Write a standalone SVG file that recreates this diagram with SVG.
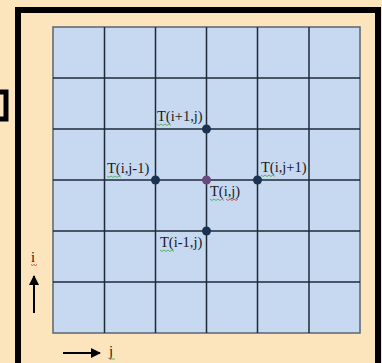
<svg xmlns="http://www.w3.org/2000/svg" width="382" height="363" viewBox="0 0 382 363">
<defs>
<style>
.lbl{font-family:"Liberation Serif","Times New Roman",serif;font-size:14.5px;fill:#1a1a1a}
.grid{stroke:#1f2a38;stroke-width:1.5;fill:none}
.dot{fill:#1b3350}
.sq-g{stroke:#4caf50;stroke-width:0.9;fill:none}
.sq-r{stroke:#e53935;stroke-width:0.9;fill:none}
</style>
<marker id="ah" viewBox="0 0 10 10" refX="9" refY="5" markerWidth="10" markerHeight="10" markerUnits="userSpaceOnUse" orient="auto">
<path d="M0,0 L10,5 L0,10 z" fill="#000"/>
</marker>
</defs>
<rect x="0" y="0" width="382" height="363" fill="#fce5bd"/>
<rect x="-20" y="92" width="26" height="27" fill="none" stroke="#000" stroke-width="5"/>
<rect x="18" y="10" width="360" height="380" fill="none" stroke="#000" stroke-width="6"/>
<g id="grid">
<rect x="53" y="27" width="307" height="306" fill="#c6d9f1" stroke="#5a6470" stroke-width="1.5"/>
<path class="grid" d="M104.5,27V333M155.5,27V333M206.5,27V333M257.5,27V333M309,27V333M53,78H360M53,129H360M53,180H360M53,231H360M53,282H360"/>
</g>
<g id="connectors">
<line x1="34" y1="313" x2="34" y2="276" stroke="#000" stroke-width="2" marker-end="url(#ah)"/>
<line x1="63" y1="353" x2="100" y2="353" stroke="#000" stroke-width="2" marker-end="url(#ah)"/>
</g>
<g id="n-center"><circle cx="206.5" cy="180" r="4.5" fill="#6a4a7c"/>
<text class="lbl" x="210" y="196">T(i,j)</text>
<path class="sq-g" d="M210,199 l2,1.5 2,-1.5 2,1.5 2,-1.5 2,1.5 2,-1.5 2,1.5"/>
<path class="sq-r" d="M226,199 l2,1.5 2,-1.5 2,1.5 2,-1.5 2,1.5 2,-1.5"/></g>
<g id="n-top"><circle class="dot" cx="206.5" cy="129" r="4.5"/>
<text class="lbl" x="157" y="121">T(i+1,j)</text>
<path class="sq-g" d="M157,124 l2,1.5 2,-1.5 2,1.5 2,-1.5 2,1.5 2,-1.5 2,1.5"/></g>
<g id="n-left"><circle class="dot" cx="155.5" cy="180" r="4.5"/>
<text class="lbl" x="107" y="173">T(i,j-1)</text>
<path class="sq-g" d="M107,176 l2,1.5 2,-1.5 2,1.5 2,-1.5 2,1.5 2,-1.5 2,1.5"/></g>
<g id="n-right"><circle class="dot" cx="257.5" cy="180" r="4.5"/>
<text class="lbl" x="261" y="172">T(i,j+1)</text>
<path class="sq-g" d="M261,175 l2,1.5 2,-1.5 2,1.5 2,-1.5 2,1.5 2,-1.5 2,1.5"/></g>
<g id="n-bottom"><circle class="dot" cx="206.5" cy="231" r="4.5"/>
<text class="lbl" x="160" y="247">T(i-1,j)</text>
<path class="sq-g" d="M160,250 l2,1.5 2,-1.5 2,1.5 2,-1.5 2,1.5 2,-1.5 2,1.5"/></g>
<g id="axis-i"><text class="lbl" x="31" y="262">i</text>
<path class="sq-r" d="M31,264.5 l1.5,1 1.5,-1 1.5,1 1.5,-1"/></g>
<g id="axis-j"><text class="lbl" x="109" y="356">j</text>
<path class="sq-g" d="M109,358.5 l1.5,1 1.5,-1 1.5,1 1.5,-1"/></g>
</svg>
